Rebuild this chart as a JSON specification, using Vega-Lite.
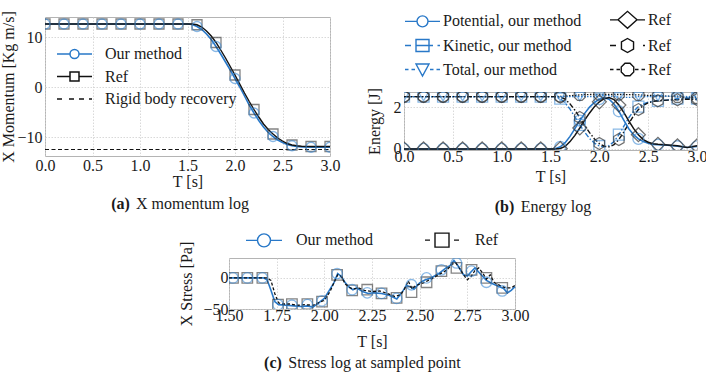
{
"$schema": "https://vega.github.io/schema/vega-lite/v6.json",
"padding": {"left": 0, "top": 10, "right": 0, "bottom": 0},
"config": {
  "font": "Liberation Serif",
  "view": {"stroke": "#b4b4b4", "strokeWidth": 1},
  "axis": {"grid": true, "gridColor": "#cfcfcf", "gridDash": [1.5, 1.5], "gridWidth": 0.8, "domain": false, "ticks": false, "labelFont": "Liberation Serif", "labelFontSize": 16, "labelColor": "#1a1a1a", "titleFont": "Liberation Serif", "titleFontSize": 16, "titleFontWeight": "normal", "titleColor": "#1a1a1a", "labelFlush": false, "labelOverlap": false},
  "legend": {"labelFont": "Liberation Serif", "labelFontSize": 16, "labelColor": "#1a1a1a", "symbolStrokeWidth": 1.5, "symbolSize": 100, "labelLimit": 400},
  "title": {"font": "Liberation Serif", "fontSize": 16, "fontWeight": "normal", "color": "#1a1a1a"}
},
"resolve": {"scale": {"color": "independent", "shape": "independent"}, "legend": {"color": "independent", "shape": "independent"}},
"datasets": {
  "mom": [
    {"T":0,"V":12.6,"s":"Our method"},{"T":0.2,"V":12.6,"s":"Our method"},{"T":0.4,"V":12.6,"s":"Our method"},{"T":0.6,"V":12.6,"s":"Our method"},{"T":0.8,"V":12.6,"s":"Our method"},{"T":1.0,"V":12.6,"s":"Our method"},{"T":1.2,"V":12.6,"s":"Our method"},{"T":1.4,"V":12.6,"s":"Our method"},{"T":1.5,"V":12.6,"s":"Our method"},{"T":1.55,"V":12.5,"s":"Our method"},{"T":1.6,"V":12.1,"s":"Our method"},{"T":1.65,"V":11.5,"s":"Our method"},{"T":1.7,"V":10.6,"s":"Our method"},{"T":1.75,"V":9.5,"s":"Our method"},{"T":1.8,"V":8.1,"s":"Our method"},{"T":1.85,"V":6.6,"s":"Our method"},{"T":1.9,"V":5.0,"s":"Our method"},{"T":1.95,"V":3.4,"s":"Our method"},{"T":2.0,"V":1.7,"s":"Our method"},{"T":2.05,"V":0.0,"s":"Our method"},{"T":2.1,"V":-1.8,"s":"Our method"},{"T":2.15,"V":-3.6,"s":"Our method"},{"T":2.2,"V":-5.2,"s":"Our method"},{"T":2.25,"V":-6.7,"s":"Our method"},{"T":2.3,"V":-8.0,"s":"Our method"},{"T":2.35,"V":-9.1,"s":"Our method"},{"T":2.4,"V":-9.9,"s":"Our method"},{"T":2.45,"V":-10.6,"s":"Our method"},{"T":2.5,"V":-11.1,"s":"Our method"},{"T":2.55,"V":-11.5,"s":"Our method"},{"T":2.6,"V":-11.75,"s":"Our method"},{"T":2.65,"V":-11.9,"s":"Our method"},{"T":2.7,"V":-12.0,"s":"Our method"},{"T":2.8,"V":-12.05,"s":"Our method"},{"T":2.9,"V":-12.05,"s":"Our method"},{"T":3.0,"V":-12.05,"s":"Our method"},
    {"T":0,"V":12.6,"s":"Ref"},{"T":0.2,"V":12.6,"s":"Ref"},{"T":0.4,"V":12.6,"s":"Ref"},{"T":0.6,"V":12.6,"s":"Ref"},{"T":0.8,"V":12.6,"s":"Ref"},{"T":1.0,"V":12.6,"s":"Ref"},{"T":1.2,"V":12.6,"s":"Ref"},{"T":1.4,"V":12.6,"s":"Ref"},{"T":1.5,"V":12.6,"s":"Ref"},{"T":1.55,"V":12.6,"s":"Ref"},{"T":1.6,"V":12.45,"s":"Ref"},{"T":1.65,"V":12.0,"s":"Ref"},{"T":1.7,"V":11.2,"s":"Ref"},{"T":1.75,"V":10.2,"s":"Ref"},{"T":1.8,"V":8.9,"s":"Ref"},{"T":1.85,"V":7.4,"s":"Ref"},{"T":1.9,"V":5.8,"s":"Ref"},{"T":1.95,"V":4.1,"s":"Ref"},{"T":2.0,"V":2.4,"s":"Ref"},{"T":2.05,"V":0.6,"s":"Ref"},{"T":2.1,"V":-1.2,"s":"Ref"},{"T":2.15,"V":-2.9,"s":"Ref"},{"T":2.2,"V":-4.5,"s":"Ref"},{"T":2.25,"V":-6.0,"s":"Ref"},{"T":2.3,"V":-7.4,"s":"Ref"},{"T":2.35,"V":-8.5,"s":"Ref"},{"T":2.4,"V":-9.4,"s":"Ref"},{"T":2.45,"V":-10.2,"s":"Ref"},{"T":2.5,"V":-10.8,"s":"Ref"},{"T":2.55,"V":-11.3,"s":"Ref"},{"T":2.6,"V":-11.6,"s":"Ref"},{"T":2.65,"V":-11.75,"s":"Ref"},{"T":2.7,"V":-11.85,"s":"Ref"},{"T":2.8,"V":-11.9,"s":"Ref"},{"T":2.9,"V":-11.9,"s":"Ref"},{"T":3.0,"V":-11.9,"s":"Ref"},
    {"T":0,"V":-12.5,"s":"Rigid body recovery"},{"T":3.0,"V":-12.5,"s":"Rigid body recovery"}
  ],
  "energy": [
    {"T":0,"V":0,"s":"Potential, our method"},{"T":0.2,"V":0,"s":"Potential, our method"},{"T":0.4,"V":0,"s":"Potential, our method"},{"T":0.6,"V":0,"s":"Potential, our method"},{"T":0.8,"V":0,"s":"Potential, our method"},{"T":1.0,"V":0,"s":"Potential, our method"},{"T":1.2,"V":0,"s":"Potential, our method"},{"T":1.4,"V":0,"s":"Potential, our method"},{"T":1.5,"V":0,"s":"Potential, our method"},{"T":1.55,"V":0.01,"s":"Potential, our method"},{"T":1.6,"V":0.1,"s":"Potential, our method"},{"T":1.65,"V":0.3,"s":"Potential, our method"},{"T":1.7,"V":0.6,"s":"Potential, our method"},{"T":1.75,"V":0.97,"s":"Potential, our method"},{"T":1.8,"V":1.35,"s":"Potential, our method"},{"T":1.85,"V":1.7,"s":"Potential, our method"},{"T":1.9,"V":2.0,"s":"Potential, our method"},{"T":1.95,"V":2.22,"s":"Potential, our method"},{"T":2.0,"V":2.38,"s":"Potential, our method"},{"T":2.05,"V":2.45,"s":"Potential, our method"},{"T":2.1,"V":2.38,"s":"Potential, our method"},{"T":2.15,"V":2.15,"s":"Potential, our method"},{"T":2.2,"V":1.8,"s":"Potential, our method"},{"T":2.25,"V":1.38,"s":"Potential, our method"},{"T":2.3,"V":0.98,"s":"Potential, our method"},{"T":2.35,"V":0.68,"s":"Potential, our method"},{"T":2.4,"V":0.48,"s":"Potential, our method"},{"T":2.45,"V":0.35,"s":"Potential, our method"},{"T":2.5,"V":0.27,"s":"Potential, our method"},{"T":2.55,"V":0.22,"s":"Potential, our method"},{"T":2.6,"V":0.2,"s":"Potential, our method"},{"T":2.7,"V":0.18,"s":"Potential, our method"},{"T":2.8,"V":0.13,"s":"Potential, our method"},{"T":2.9,"V":0.07,"s":"Potential, our method"},{"T":3.0,"V":0.12,"s":"Potential, our method"},
    {"T":0,"V":2.5,"s":"Kinetic, our method"},{"T":0.2,"V":2.5,"s":"Kinetic, our method"},{"T":0.4,"V":2.5,"s":"Kinetic, our method"},{"T":0.6,"V":2.5,"s":"Kinetic, our method"},{"T":0.8,"V":2.5,"s":"Kinetic, our method"},{"T":1.0,"V":2.5,"s":"Kinetic, our method"},{"T":1.2,"V":2.5,"s":"Kinetic, our method"},{"T":1.4,"V":2.5,"s":"Kinetic, our method"},{"T":1.5,"V":2.5,"s":"Kinetic, our method"},{"T":1.55,"V":2.49,"s":"Kinetic, our method"},{"T":1.6,"V":2.4,"s":"Kinetic, our method"},{"T":1.65,"V":2.2,"s":"Kinetic, our method"},{"T":1.7,"V":1.9,"s":"Kinetic, our method"},{"T":1.75,"V":1.53,"s":"Kinetic, our method"},{"T":1.8,"V":1.15,"s":"Kinetic, our method"},{"T":1.85,"V":0.8,"s":"Kinetic, our method"},{"T":1.9,"V":0.5,"s":"Kinetic, our method"},{"T":1.95,"V":0.28,"s":"Kinetic, our method"},{"T":2.0,"V":0.14,"s":"Kinetic, our method"},{"T":2.05,"V":0.1,"s":"Kinetic, our method"},{"T":2.1,"V":0.16,"s":"Kinetic, our method"},{"T":2.15,"V":0.35,"s":"Kinetic, our method"},{"T":2.2,"V":0.68,"s":"Kinetic, our method"},{"T":2.25,"V":1.08,"s":"Kinetic, our method"},{"T":2.3,"V":1.48,"s":"Kinetic, our method"},{"T":2.35,"V":1.8,"s":"Kinetic, our method"},{"T":2.4,"V":2.02,"s":"Kinetic, our method"},{"T":2.45,"V":2.15,"s":"Kinetic, our method"},{"T":2.5,"V":2.23,"s":"Kinetic, our method"},{"T":2.55,"V":2.28,"s":"Kinetic, our method"},{"T":2.6,"V":2.3,"s":"Kinetic, our method"},{"T":2.7,"V":2.34,"s":"Kinetic, our method"},{"T":2.8,"V":2.4,"s":"Kinetic, our method"},{"T":2.9,"V":2.43,"s":"Kinetic, our method"},{"T":3.0,"V":2.4,"s":"Kinetic, our method"},
    {"T":0,"V":2.5,"s":"Total, our method"},{"T":0.2,"V":2.5,"s":"Total, our method"},{"T":0.4,"V":2.5,"s":"Total, our method"},{"T":0.6,"V":2.5,"s":"Total, our method"},{"T":0.8,"V":2.5,"s":"Total, our method"},{"T":1.0,"V":2.5,"s":"Total, our method"},{"T":1.2,"V":2.5,"s":"Total, our method"},{"T":1.4,"V":2.5,"s":"Total, our method"},{"T":1.5,"V":2.5,"s":"Total, our method"},{"T":1.55,"V":2.5,"s":"Total, our method"},{"T":1.6,"V":2.5,"s":"Total, our method"},{"T":1.65,"V":2.5,"s":"Total, our method"},{"T":1.7,"V":2.5,"s":"Total, our method"},{"T":1.75,"V":2.5,"s":"Total, our method"},{"T":1.8,"V":2.5,"s":"Total, our method"},{"T":1.85,"V":2.5,"s":"Total, our method"},{"T":1.9,"V":2.5,"s":"Total, our method"},{"T":1.95,"V":2.5,"s":"Total, our method"},{"T":2.0,"V":2.52,"s":"Total, our method"},{"T":2.05,"V":2.55,"s":"Total, our method"},{"T":2.1,"V":2.54,"s":"Total, our method"},{"T":2.15,"V":2.5,"s":"Total, our method"},{"T":2.2,"V":2.48,"s":"Total, our method"},{"T":2.25,"V":2.46,"s":"Total, our method"},{"T":2.3,"V":2.46,"s":"Total, our method"},{"T":2.35,"V":2.48,"s":"Total, our method"},{"T":2.4,"V":2.5,"s":"Total, our method"},{"T":2.45,"V":2.5,"s":"Total, our method"},{"T":2.5,"V":2.5,"s":"Total, our method"},{"T":2.55,"V":2.5,"s":"Total, our method"},{"T":2.6,"V":2.5,"s":"Total, our method"},{"T":2.7,"V":2.52,"s":"Total, our method"},{"T":2.8,"V":2.53,"s":"Total, our method"},{"T":2.9,"V":2.5,"s":"Total, our method"},{"T":3.0,"V":2.52,"s":"Total, our method"},
    {"T":0,"V":0,"s":"Ref potential"},{"T":0.2,"V":0,"s":"Ref potential"},{"T":0.4,"V":0,"s":"Ref potential"},{"T":0.6,"V":0,"s":"Ref potential"},{"T":0.8,"V":0,"s":"Ref potential"},{"T":1.0,"V":0,"s":"Ref potential"},{"T":1.2,"V":0,"s":"Ref potential"},{"T":1.4,"V":0,"s":"Ref potential"},{"T":1.5,"V":0,"s":"Ref potential"},{"T":1.55,"V":0,"s":"Ref potential"},{"T":1.6,"V":0.02,"s":"Ref potential"},{"T":1.65,"V":0.12,"s":"Ref potential"},{"T":1.7,"V":0.35,"s":"Ref potential"},{"T":1.75,"V":0.65,"s":"Ref potential"},{"T":1.8,"V":1.0,"s":"Ref potential"},{"T":1.85,"V":1.38,"s":"Ref potential"},{"T":1.9,"V":1.72,"s":"Ref potential"},{"T":1.95,"V":2.02,"s":"Ref potential"},{"T":2.0,"V":2.25,"s":"Ref potential"},{"T":2.05,"V":2.4,"s":"Ref potential"},{"T":2.1,"V":2.46,"s":"Ref potential"},{"T":2.15,"V":2.36,"s":"Ref potential"},{"T":2.2,"V":2.1,"s":"Ref potential"},{"T":2.25,"V":1.75,"s":"Ref potential"},{"T":2.3,"V":1.35,"s":"Ref potential"},{"T":2.35,"V":0.98,"s":"Ref potential"},{"T":2.4,"V":0.68,"s":"Ref potential"},{"T":2.45,"V":0.45,"s":"Ref potential"},{"T":2.5,"V":0.32,"s":"Ref potential"},{"T":2.55,"V":0.25,"s":"Ref potential"},{"T":2.6,"V":0.22,"s":"Ref potential"},{"T":2.7,"V":0.19,"s":"Ref potential"},{"T":2.8,"V":0.15,"s":"Ref potential"},{"T":2.9,"V":0.07,"s":"Ref potential"},{"T":3.0,"V":0.15,"s":"Ref potential"},
    {"T":0,"V":2.5,"s":"Ref kinetic"},{"T":0.2,"V":2.5,"s":"Ref kinetic"},{"T":0.4,"V":2.5,"s":"Ref kinetic"},{"T":0.6,"V":2.5,"s":"Ref kinetic"},{"T":0.8,"V":2.5,"s":"Ref kinetic"},{"T":1.0,"V":2.5,"s":"Ref kinetic"},{"T":1.2,"V":2.5,"s":"Ref kinetic"},{"T":1.4,"V":2.5,"s":"Ref kinetic"},{"T":1.5,"V":2.5,"s":"Ref kinetic"},{"T":1.55,"V":2.5,"s":"Ref kinetic"},{"T":1.6,"V":2.48,"s":"Ref kinetic"},{"T":1.65,"V":2.38,"s":"Ref kinetic"},{"T":1.7,"V":2.15,"s":"Ref kinetic"},{"T":1.75,"V":1.85,"s":"Ref kinetic"},{"T":1.8,"V":1.5,"s":"Ref kinetic"},{"T":1.85,"V":1.12,"s":"Ref kinetic"},{"T":1.9,"V":0.78,"s":"Ref kinetic"},{"T":1.95,"V":0.48,"s":"Ref kinetic"},{"T":2.0,"V":0.26,"s":"Ref kinetic"},{"T":2.05,"V":0.13,"s":"Ref kinetic"},{"T":2.1,"V":0.1,"s":"Ref kinetic"},{"T":2.15,"V":0.2,"s":"Ref kinetic"},{"T":2.2,"V":0.45,"s":"Ref kinetic"},{"T":2.25,"V":0.8,"s":"Ref kinetic"},{"T":2.3,"V":1.2,"s":"Ref kinetic"},{"T":2.35,"V":1.58,"s":"Ref kinetic"},{"T":2.4,"V":1.88,"s":"Ref kinetic"},{"T":2.45,"V":2.08,"s":"Ref kinetic"},{"T":2.5,"V":2.2,"s":"Ref kinetic"},{"T":2.55,"V":2.27,"s":"Ref kinetic"},{"T":2.6,"V":2.3,"s":"Ref kinetic"},{"T":2.7,"V":2.33,"s":"Ref kinetic"},{"T":2.8,"V":2.35,"s":"Ref kinetic"},{"T":2.9,"V":2.38,"s":"Ref kinetic"},{"T":3.0,"V":2.36,"s":"Ref kinetic"},
    {"T":0,"V":2.5,"s":"Ref total"},{"T":0.2,"V":2.5,"s":"Ref total"},{"T":0.4,"V":2.5,"s":"Ref total"},{"T":0.6,"V":2.5,"s":"Ref total"},{"T":0.8,"V":2.5,"s":"Ref total"},{"T":1.0,"V":2.5,"s":"Ref total"},{"T":1.2,"V":2.5,"s":"Ref total"},{"T":1.4,"V":2.5,"s":"Ref total"},{"T":1.5,"V":2.5,"s":"Ref total"},{"T":1.55,"V":2.5,"s":"Ref total"},{"T":1.6,"V":2.51,"s":"Ref total"},{"T":1.65,"V":2.52,"s":"Ref total"},{"T":1.7,"V":2.54,"s":"Ref total"},{"T":1.75,"V":2.56,"s":"Ref total"},{"T":1.8,"V":2.58,"s":"Ref total"},{"T":1.85,"V":2.59,"s":"Ref total"},{"T":1.9,"V":2.6,"s":"Ref total"},{"T":1.95,"V":2.6,"s":"Ref total"},{"T":2.0,"V":2.6,"s":"Ref total"},{"T":2.05,"V":2.6,"s":"Ref total"},{"T":2.1,"V":2.6,"s":"Ref total"},{"T":2.15,"V":2.6,"s":"Ref total"},{"T":2.2,"V":2.6,"s":"Ref total"},{"T":2.25,"V":2.6,"s":"Ref total"},{"T":2.3,"V":2.59,"s":"Ref total"},{"T":2.35,"V":2.59,"s":"Ref total"},{"T":2.4,"V":2.58,"s":"Ref total"},{"T":2.45,"V":2.57,"s":"Ref total"},{"T":2.5,"V":2.56,"s":"Ref total"},{"T":2.55,"V":2.55,"s":"Ref total"},{"T":2.6,"V":2.54,"s":"Ref total"},{"T":2.7,"V":2.52,"s":"Ref total"},{"T":2.8,"V":2.49,"s":"Ref total"},{"T":2.9,"V":2.46,"s":"Ref total"},{"T":3.0,"V":2.44,"s":"Ref total"}
  ],
  "stress": [
    {"T":1.5,"V":0,"s":"Our method"},{"T":1.6,"V":0,"s":"Our method"},{"T":1.68,"V":0,"s":"Our method"},{"T":1.7,"V":-3,"s":"Our method"},{"T":1.72,"V":-20,"s":"Our method"},{"T":1.74,"V":-38,"s":"Our method"},{"T":1.76,"V":-43,"s":"Our method"},{"T":1.8,"V":-44,"s":"Our method"},{"T":1.84,"V":-45,"s":"Our method"},{"T":1.88,"V":-46,"s":"Our method"},{"T":1.91,"V":-45,"s":"Our method"},{"T":1.94,"V":-47,"s":"Our method"},{"T":1.97,"V":-40,"s":"Our method"},{"T":2.0,"V":-33,"s":"Our method"},{"T":2.03,"V":-18,"s":"Our method"},{"T":2.05,"V":-8,"s":"Our method"},{"T":2.07,"V":7,"s":"Our method"},{"T":2.09,"V":2,"s":"Our method"},{"T":2.11,"V":-8,"s":"Our method"},{"T":2.13,"V":-15,"s":"Our method"},{"T":2.15,"V":-19,"s":"Our method"},{"T":2.17,"V":-16,"s":"Our method"},{"T":2.2,"V":-22,"s":"Our method"},{"T":2.23,"V":-25,"s":"Our method"},{"T":2.26,"V":-24,"s":"Our method"},{"T":2.3,"V":-25,"s":"Our method"},{"T":2.34,"V":-28,"s":"Our method"},{"T":2.38,"V":-34,"s":"Our method"},{"T":2.41,"V":-22,"s":"Our method"},{"T":2.43,"V":-12,"s":"Our method"},{"T":2.45,"V":-14,"s":"Our method"},{"T":2.47,"V":-18,"s":"Our method"},{"T":2.5,"V":-8,"s":"Our method"},{"T":2.53,"V":-3,"s":"Our method"},{"T":2.56,"V":0,"s":"Our method"},{"T":2.6,"V":7,"s":"Our method"},{"T":2.63,"V":14,"s":"Our method"},{"T":2.66,"V":20,"s":"Our method"},{"T":2.68,"V":28,"s":"Our method"},{"T":2.7,"V":20,"s":"Our method"},{"T":2.73,"V":5,"s":"Our method"},{"T":2.75,"V":3,"s":"Our method"},{"T":2.77,"V":10,"s":"Our method"},{"T":2.79,"V":16,"s":"Our method"},{"T":2.82,"V":6,"s":"Our method"},{"T":2.85,"V":-4,"s":"Our method"},{"T":2.88,"V":-9,"s":"Our method"},{"T":2.91,"V":-13,"s":"Our method"},{"T":2.94,"V":-17,"s":"Our method"},{"T":2.96,"V":-24,"s":"Our method"},{"T":2.98,"V":-20,"s":"Our method"},{"T":3.0,"V":-14,"s":"Our method"},
    {"T":1.5,"V":0,"s":"Ref"},{"T":1.7,"V":0,"s":"Ref"},{"T":1.72,"V":-4,"s":"Ref"},{"T":1.74,"V":-25,"s":"Ref"},{"T":1.76,"V":-40,"s":"Ref"},{"T":1.78,"V":-42,"s":"Ref"},{"T":1.82,"V":-42,"s":"Ref"},{"T":1.86,"V":-44,"s":"Ref"},{"T":1.9,"V":-43,"s":"Ref"},{"T":1.94,"V":-44,"s":"Ref"},{"T":1.97,"V":-40,"s":"Ref"},{"T":2.0,"V":-36,"s":"Ref"},{"T":2.03,"V":-22,"s":"Ref"},{"T":2.05,"V":-8,"s":"Ref"},{"T":2.07,"V":5,"s":"Ref"},{"T":2.09,"V":2,"s":"Ref"},{"T":2.11,"V":-10,"s":"Ref"},{"T":2.13,"V":-15,"s":"Ref"},{"T":2.15,"V":-18,"s":"Ref"},{"T":2.18,"V":-16,"s":"Ref"},{"T":2.21,"V":-20,"s":"Ref"},{"T":2.25,"V":-22,"s":"Ref"},{"T":2.29,"V":-21,"s":"Ref"},{"T":2.33,"V":-25,"s":"Ref"},{"T":2.37,"V":-30,"s":"Ref"},{"T":2.4,"V":-27,"s":"Ref"},{"T":2.42,"V":-18,"s":"Ref"},{"T":2.44,"V":-5,"s":"Ref"},{"T":2.46,"V":-18,"s":"Ref"},{"T":2.48,"V":-12,"s":"Ref"},{"T":2.52,"V":-8,"s":"Ref"},{"T":2.56,"V":-2,"s":"Ref"},{"T":2.6,"V":5,"s":"Ref"},{"T":2.64,"V":12,"s":"Ref"},{"T":2.67,"V":22,"s":"Ref"},{"T":2.69,"V":24,"s":"Ref"},{"T":2.71,"V":15,"s":"Ref"},{"T":2.73,"V":5,"s":"Ref"},{"T":2.75,"V":-3,"s":"Ref"},{"T":2.77,"V":2,"s":"Ref"},{"T":2.79,"V":12,"s":"Ref"},{"T":2.81,"V":16,"s":"Ref"},{"T":2.83,"V":8,"s":"Ref"},{"T":2.85,"V":-2,"s":"Ref"},{"T":2.87,"V":5,"s":"Ref"},{"T":2.89,"V":-7,"s":"Ref"},{"T":2.92,"V":-12,"s":"Ref"},{"T":2.95,"V":-16,"s":"Ref"},{"T":2.98,"V":-16,"s":"Ref"},{"T":3.0,"V":-12,"s":"Ref"}
  ],
  "stressMarks": [
    {"T":1.521,"V":0,"s":"Our method"},{"T":1.596,"V":0,"s":"Our method"},{"T":1.675,"V":0,"s":"Our method"},{"T":1.757,"V":-43,"s":"Our method"},{"T":1.83,"V":-44,"s":"Our method"},{"T":1.911,"V":-43,"s":"Our method"},{"T":1.988,"V":-37,"s":"Our method"},{"T":2.067,"V":7,"s":"Our method"},{"T":2.146,"V":-19,"s":"Our method"},{"T":2.225,"V":-24,"s":"Our method"},{"T":2.3,"V":-25,"s":"Our method"},{"T":2.379,"V":-33,"s":"Our method"},{"T":2.457,"V":-11,"s":"Our method"},{"T":2.536,"V":0,"s":"Our method"},{"T":2.614,"V":13,"s":"Our method"},{"T":2.693,"V":24,"s":"Our method"},{"T":2.772,"V":11,"s":"Our method"},{"T":2.85,"V":-7,"s":"Our method"},{"T":2.933,"V":-21,"s":"Our method"},
    {"T":1.521,"V":0,"s":"Ref"},{"T":1.596,"V":0,"s":"Ref"},{"T":1.675,"V":0,"s":"Ref"},{"T":1.757,"V":-43,"s":"Ref"},{"T":1.83,"V":-42,"s":"Ref"},{"T":1.911,"V":-42,"s":"Ref"},{"T":1.988,"V":-38,"s":"Ref"},{"T":2.067,"V":5,"s":"Ref"},{"T":2.146,"V":-20,"s":"Ref"},{"T":2.225,"V":-19,"s":"Ref"},{"T":2.3,"V":-25,"s":"Ref"},{"T":2.379,"V":-32,"s":"Ref"},{"T":2.457,"V":-23,"s":"Ref"},{"T":2.536,"V":-7,"s":"Ref"},{"T":2.614,"V":11,"s":"Ref"},{"T":2.693,"V":16,"s":"Ref"},{"T":2.772,"V":13,"s":"Ref"},{"T":2.85,"V":0,"s":"Ref"},{"T":2.933,"V":-16,"s":"Ref"}
  ]
},
"vconcat": [
  {
    "resolve": {"scale": {"color": "independent", "shape": "independent"}, "legend": {"color": "independent", "shape": "independent"}},
    "hconcat": [
      {
        "title": {"text": "(a)", "orient": "bottom", "anchor": "middle", "fontWeight": "bold", "offset": -17, "dx": -50},
        "vconcat": [
          {
            "width": 285, "height": 139,
            "title": {"text": "X momentum log", "orient": "bottom", "anchor": "middle", "offset": 7, "dx": 5},
            "data": {"name": "mom"},
            "encoding": {
              "x": {"field": "T", "type": "quantitative", "scale": {"domain": [0, 3], "nice": false, "zero": false}, "axis": {"values": [0, 0.5, 1, 1.5, 2, 2.5, 3], "format": ".1f", "title": "T [s]", "labelPadding": 1, "titlePadding": 0}},
              "y": {"field": "V", "type": "quantitative", "scale": {"domain": [-13.8, 14], "nice": false, "zero": false}, "axis": {"values": [-10, 0, 10], "title": "X Momentum [Kg m/s]", "labelPadding": 3, "titlePadding": 0}}
            },
            "layer": [
              {"transform": [{"filter": "datum.s == 'Rigid body recovery'"}], "mark": {"type": "line", "color": "#111111", "strokeWidth": 1.2, "strokeDash": [4, 2.5]}},
              {"transform": [{"filter": "datum.s == 'Our method'"}], "mark": {"type": "line", "color": "#2878c8", "strokeWidth": 1.6}},
              {"transform": [{"filter": "datum.s == 'Ref'"}], "mark": {"type": "line", "color": "#111111", "strokeWidth": 1.4}},
              {"transform": [{"filter": "datum.s == 'Ref' && abs(datum.T*5 - round(datum.T*5)) < 0.001"}], "mark": {"type": "point", "shape": "square", "filled": false, "size": 100, "color": "#333333", "opacity": 0.6, "strokeWidth": 1.3, "clip": true}},
              {"transform": [{"filter": "datum.s == 'Our method' && abs(datum.T*5 - round(datum.T*5)) < 0.001"}], "mark": {"type": "point", "shape": "circle", "filled": false, "size": 100, "color": "#3d8bd6", "opacity": 0.6, "strokeWidth": 1.3, "clip": true}},
              {
                "transform": [{"filter": "false"}],
                "mark": {"type": "point", "filled": false, "opacity": 1, "size": 100, "strokeWidth": 1.5},
                "encoding": {
                  "color": {"field": "s", "type": "nominal", "scale": {"domain": ["Our method", "Ref", "Rigid body recovery"], "range": ["#2878c8", "#111111", "#111111"]}, "legend": {"title": null, "orient": "none", "legendX": 9, "legendY": 29, "direction": "vertical", "labelOffset": 35, "rowPadding": 6.5, "symbolSize": 100, "symbolOpacity": 1, "symbolStrokeWidth": 1.5}},
                  "shape": {"field": "s", "type": "nominal", "scale": {"domain": ["Our method", "Ref", "Rigid body recovery"], "range": ["M-1,0H1.6M3.4,0H6M1.6,0A0.9,0.9 0 1,0 3.4,0A0.9,0.9 0 1,0 1.6,0", "M-1,0H1.6M3.4,0H6M1.6,-0.9H3.4V0.9H1.6Z", "M-1,0H0M1.4,0H2.4M3.4,0H4.4M5.4,0H6"]}, "legend": {"title": null, "orient": "none", "legendX": 9, "legendY": 29, "direction": "vertical", "labelOffset": 35, "rowPadding": 6.5, "symbolSize": 100, "symbolOpacity": 1, "symbolStrokeWidth": 1.5}}
                }
              }
            ]
          }
        ]
      },
      {
        "title": {"text": "(b)", "orient": "bottom", "anchor": "middle", "fontWeight": "bold", "offset": -17, "dx": -32},
        "spacing": 0,
        "vconcat": [
          {
            "width": 293, "height": 70,
            "view": {"stroke": null},
            "data": {"name": "energy"},
            "transform": [{"filter": "false"}],
            "mark": {"type": "point", "filled": false, "opacity": 1, "size": 100, "strokeWidth": 1.5},
            "encoding": {
              "color": {"field": "s", "type": "nominal", "scale": {"domain": ["Potential, our method", "Kinetic, our method", "Total, our method", "Ref potential", "Ref kinetic", "Ref total"], "range": ["#2878c8", "#2878c8", "#2878c8", "#111111", "#111111", "#111111"]}, "legend": {"title": null, "orient": "none", "legendX": -2, "legendY": -5.5, "columns": 2, "direction": "vertical", "labelOffset": 25, "rowPadding": 4.0, "columnPadding": 25, "symbolSize": 100, "symbolOpacity": 1, "symbolStrokeWidth": 1.4, "labelExpr": "indexof(datum.label, 'Ref') == 0 ? 'Ref' : datum.label"}},
              "shape": {"field": "s", "type": "nominal", "scale": {"domain": ["Potential, our method", "Kinetic, our method", "Total, our method", "Ref potential", "Ref kinetic", "Ref total"], "range": ["M-1,0H1.4M3.6,0H6M1.4,0A1.1,1.1 0 1,0 3.6,0A1.1,1.1 0 1,0 1.4,0", "M-1,0H0.2M1.2,-1.2H3.8V1.2H1.2ZM1.2,0H4.6M5.5,0H6", "M-1,0H-0.3M0.3,0H1M1.2,-1.1H3.8L2.5,1.3ZM4,0H4.7M5.3,0H6", "M-1,0H0.6M4.4,0H6M0.6,0L2.5,-1.7L4.4,0L2.5,1.7Z", "M-1,0H0.2M2.5,-1.4L3.71,-0.7L3.71,0.7L2.5,1.4L1.29,0.7L1.29,-0.7ZM5.6,0H6", "M-1,0H-0.3M0.3,0H1M2,-1.25H3L3.75,-0.5V0.5L3,1.25H2L1.25,0.5V-0.5ZM4,0H4.7M5.3,0H6"]}, "legend": {"title": null, "orient": "none", "legendX": -2, "legendY": -5.5, "columns": 2, "direction": "vertical", "labelOffset": 25, "rowPadding": 4.0, "columnPadding": 25, "symbolSize": 100, "symbolOpacity": 1, "symbolStrokeWidth": 1.4, "labelExpr": "indexof(datum.label, 'Ref') == 0 ? 'Ref' : datum.label"}}
            }
          },
          {
            "width": 293, "height": 58,
            "title": {"text": "Energy log", "orient": "bottom", "anchor": "middle", "offset": 15, "dx": 5.5},
            "data": {"name": "energy"},
            "encoding": {
              "x": {"field": "T", "type": "quantitative", "scale": {"domain": [0, 3], "nice": false, "zero": false}, "axis": {"values": [0, 0.5, 1, 1.5, 2, 2.5, 3], "format": ".1f", "title": "T [s]", "labelPadding": -2, "titlePadding": 4}},
              "y": {"field": "V", "type": "quantitative", "scale": {"domain": [-0.05, 2.72], "nice": false, "zero": false}, "axis": {"values": [0, 2], "title": "Energy [J]", "labelPadding": 3, "titlePadding": 11}}
            },
            "layer": [
              {"transform": [{"filter": "datum.s == 'Ref total'"}], "mark": {"type": "line", "color": "#111111", "strokeWidth": 1.3, "strokeDash": [1.5, 1.5]}},
              {"transform": [{"filter": "datum.s == 'Total, our method'"}], "mark": {"type": "line", "color": "#2878c8", "strokeWidth": 1.3, "strokeDash": [1.5, 1.5]}},
              {"transform": [{"filter": "datum.s == 'Kinetic, our method'"}], "mark": {"type": "line", "color": "#2878c8", "strokeWidth": 1.4, "strokeDash": [5, 2, 1.5, 2]}},
              {"transform": [{"filter": "datum.s == 'Ref kinetic'"}], "mark": {"type": "line", "color": "#111111", "strokeWidth": 1.4, "strokeDash": [5, 2, 1.5, 2]}},
              {"transform": [{"filter": "datum.s == 'Potential, our method'"}], "mark": {"type": "line", "color": "#2878c8", "strokeWidth": 1.6}},
              {"transform": [{"filter": "datum.s == 'Ref potential'"}], "mark": {"type": "line", "color": "#111111", "strokeWidth": 1.5}},
              {"transform": [{"filter": "datum.s == 'Potential, our method' && abs(datum.T*5 - round(datum.T*5)) < 0.001"}], "mark": {"type": "point", "shape": "circle", "filled": false, "size": 121, "color": "#3d8bd6", "opacity": 0.6, "strokeWidth": 1.3, "clip": true}},
              {"transform": [{"filter": "datum.s == 'Kinetic, our method' && abs(datum.T*5 - round(datum.T*5)) < 0.001"}], "mark": {"type": "point", "shape": "square", "filled": false, "size": 121, "color": "#3d8bd6", "opacity": 0.6, "strokeWidth": 1.3, "clip": true}},
              {"transform": [{"filter": "datum.s == 'Total, our method' && abs(datum.T*5 - round(datum.T*5)) < 0.001"}], "mark": {"type": "point", "shape": "triangle-down", "filled": false, "size": 100, "color": "#3d8bd6", "opacity": 0.6, "strokeWidth": 1.3, "clip": true}},
              {"transform": [{"filter": "datum.s == 'Ref potential' && abs(datum.T*5 - round(datum.T*5)) < 0.001"}], "mark": {"type": "point", "shape": "diamond", "filled": false, "size": 196, "color": "#333333", "opacity": 0.7, "strokeWidth": 1.2, "clip": true}},
              {"transform": [{"filter": "datum.s == 'Ref kinetic' && abs(datum.T*5 - round(datum.T*5)) < 0.001"}], "mark": {"type": "point", "shape": "M0,-1L0.866,-0.5L0.866,0.5L0,1L-0.866,0.5L-0.866,-0.5Z", "filled": false, "size": 144, "color": "#333333", "opacity": 0.7, "strokeWidth": 1.2, "clip": true}},
              {"transform": [{"filter": "datum.s == 'Ref total' && abs(datum.T*5 - round(datum.T*5)) < 0.001"}], "mark": {"type": "point", "shape": "M-0.41,-1H0.41L1,-0.41V0.41L0.41,1H-0.41L-1,0.41V-0.41Z", "filled": false, "size": 121, "color": "#333333", "opacity": 0.7, "strokeWidth": 1.2, "clip": true}}
            ]
          }
        ]
      }
    ],
    "spacing": 24
  },
  {
    "spacing": 0,
    "resolve": {"scale": {"color": "independent", "shape": "independent"}, "legend": {"color": "independent", "shape": "independent"}},
    "hconcat": [
      {
        "width": 133, "height": 10,
        "view": {"stroke": null},
        "data": {"values": []},
        "mark": {"type": "point", "opacity": 0}
      },
      {
        "title": {"text": "(c)", "orient": "bottom", "anchor": "middle", "fontWeight": "bold", "offset": -17, "dx": -81},
        "vconcat": [
          {
            "width": 286, "height": 51,
            "title": {"text": "Stress log at sampled point", "orient": "bottom", "anchor": "middle", "offset": 6, "dx": 2.5},
            "encoding": {
              "x": {"field": "T", "type": "quantitative", "scale": {"domain": [1.5, 3], "nice": false, "zero": false}, "axis": {"values": [1.5, 1.75, 2, 2.25, 2.5, 2.75, 3], "format": ".2f", "title": "T [s]", "labelPadding": -2, "titlePadding": 10}},
              "y": {"field": "V", "type": "quantitative", "scale": {"domain": [-50, 32], "nice": false, "zero": false}, "axis": {"values": [-50, 0], "title": "X Stress [Pa]", "labelPadding": 1, "titlePadding": 8}}
            },
            "layer": [
              {"data": {"name": "stress"}, "transform": [{"filter": "datum.s == 'Our method'"}], "mark": {"type": "line", "color": "#2878c8", "strokeWidth": 1.6}},
              {"data": {"name": "stress"}, "transform": [{"filter": "datum.s == 'Ref'"}], "mark": {"type": "line", "color": "#111111", "strokeWidth": 1.3, "strokeDash": [3, 2]}},
              {"data": {"name": "stressMarks"}, "transform": [{"filter": "datum.s == 'Ref'"}], "mark": {"type": "point", "shape": "square", "filled": false, "size": 110, "color": "#333333", "opacity": 0.6, "strokeWidth": 1.3, "clip": true}},
              {"data": {"name": "stressMarks"}, "transform": [{"filter": "datum.s == 'Our method'"}], "mark": {"type": "point", "shape": "circle", "filled": false, "size": 110, "color": "#3d8bd6", "opacity": 0.6, "strokeWidth": 1.3, "clip": true}},
              {
                "data": {"name": "stressMarks"},
                "transform": [{"filter": "false"}],
                "mark": {"type": "point", "filled": false, "opacity": 1, "size": 100, "strokeWidth": 1.5},
                "encoding": {
                  "color": {"field": "s", "type": "nominal", "scale": {"domain": ["Our method", "Ref"], "range": ["#2878c8", "#111111"]}, "legend": {"title": null, "orient": "none", "legendX": 14, "legendY": -26, "columns": 2, "direction": "horizontal", "labelOffset": 37, "columnPadding": 49, "symbolSize": 100, "symbolOpacity": 1, "symbolStrokeWidth": 1.4}},
                  "shape": {"field": "s", "type": "nominal", "scale": {"domain": ["Our method", "Ref"], "range": ["M-1,0H1.3M3.9,0H6.2M1.3,0A1.3,1.3 0 1,0 3.9,0A1.3,1.3 0 1,0 1.3,0", "M-1,0H0M1,-1.4H3.8V1.4H1ZM4.8,0H5.8"]}, "legend": {"title": null, "orient": "none", "legendX": 14, "legendY": -26, "columns": 2, "direction": "horizontal", "labelOffset": 37, "columnPadding": 49, "symbolSize": 100, "symbolOpacity": 1, "symbolStrokeWidth": 1.4}}
                }
              }
            ]
          }
        ]
      }
    ]
  }
],
"spacing": 16
}
